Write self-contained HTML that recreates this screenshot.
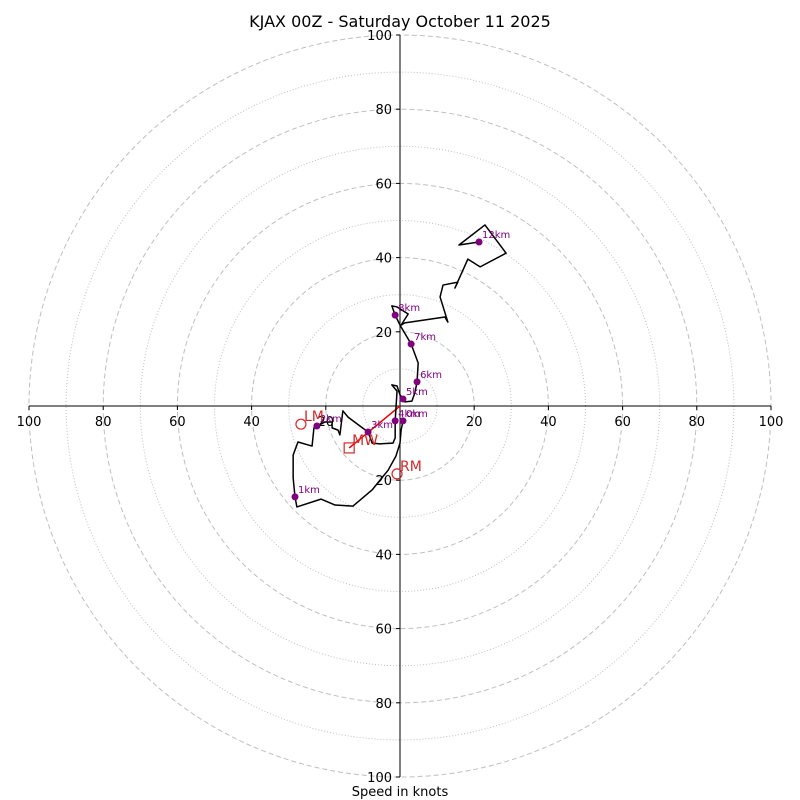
<!DOCTYPE html>
<html><head><meta charset="utf-8"><style>
html,body{margin:0;padding:0;background:#fff;}
svg{display:block;font-family:"DejaVu Sans","Liberation Sans",sans-serif;}
</style></head><body>
<svg id="c" width="800" height="800" viewBox="0 0 800 800">
<text x="400" y="27" text-anchor="middle" font-size="16">KJAX 00Z - Saturday October 11 2025</text>
<text x="400" y="796" text-anchor="middle" font-size="13">Speed in knots</text>
</svg>
<script>
const ringValues=[10,20,30,40,50,60,70,80,90,100];
const tickLabels=[20,40,60,80,100];
const traceU=[0.8,0.3,0,-1.1,-3.2,-7.5,-12.7,-17.5,-21.3,-27.8,-28.3,-28.8,-28.8,-27.5,-23.7,-23.2,-22.4,-20.2,-18.3,-18.3,-16.7,-16.2,-15.4,-14,-10.8,-8.6,-7.5,-5.4,-1.9,-1.3,-1.3,-0.8,-2.2,-0.8,0,0.8,1.3,3.2,4,4.6,4.9,3,0,-1.3,-2.2,-0.8,2.2,0.3,1.3,12.1,12.9,10.8,11.6,15.6,14.8,18.3,21.6,28.6,22.9,15.9,21.3];
const traceV=[-4,-6.5,-10,-13.5,-17.3,-22.6,-27,-26.7,-25.1,-27.2,-24.5,-19.4,-13.2,-9.7,-10.8,-5.9,-5.4,-4.3,-4.3,-5.9,-6.5,-7.8,-1.3,-3,-5.4,-7,-10,-10.2,-10,-8.6,-4,4,5.7,5.4,3,1.9,1.1,1.3,3.5,6.5,11.6,16.7,21.8,24.5,27,26.7,24.8,21.8,22.4,24,22.6,29.4,32.6,33.4,31.8,39.6,37.5,41.2,48.8,43.4,44.2];
const kmLabels=["0km","1km","2km","3km","4km","5km","6km","7km","8km","12km"];
const kmU=[0.8,-28.3,-22.4,-8.6,-1.3,0.8,4.6,3,-1.3,21.3];
const kmV=[-4,-24.5,-5.4,-7,-4,1.9,6.5,16.7,24.5,44.2];
const stormLabels=["LM","MW","RM"];
const stormU=[-26.7,-13.7,-0.8];
const stormV=[-4.9,-11.3,-18.3];

const svg=document.getElementById('c');
const NS='http://www.w3.org/2000/svg';
const cx=400,cy=406,S=3.71;
const X=u=>cx+u*S, Y=v=>cy-v*S;
function mk(t,a){const e=document.createElementNS(NS,t);for(const k in a)e.setAttribute(k,a[k]);svg.appendChild(e);return e;}

ringValues.forEach(r=>{
  const e=mk('circle',{cx:cx,cy:cy,r:r*S,fill:'none',stroke:'#bfbfbf','stroke-width':1,'stroke-dasharray':r%20===0?'5,3':'1,2'});
  
  
});
let ax=mk('line',{x1:X(-100),y1:cy,x2:X(100),y2:cy,stroke:'#000','stroke-width':1});


let ay=mk('line',{x1:cx,y1:Y(100),x2:cx,y2:Y(-100),stroke:'#000','stroke-width':1});


tickLabels.forEach(t=>{
  [-1,1].forEach(s=>{
    mk('line',{x1:X(s*t),y1:cy,x2:X(s*t),y2:cy+4,stroke:'#000'});
    let tx=mk('text',{x:X(s*t),y:cy+20,'text-anchor':'middle','font-size':13});
    tx.textContent=t;
    
    
    mk('line',{x1:cx-4,y1:Y(s*t),x2:cx,y2:Y(s*t),stroke:'#000'});
    let ty=mk('text',{x:cx-8,y:Y(s*t)+5,'text-anchor':'end','font-size':13});
    ty.textContent=t;
    
    
  });
});
let mw=mk('line',{x1:cx,y1:cy,x2:X(stormU[1]),y2:Y(stormV[1]),stroke:'#e00','stroke-width':1.5});


let pts=traceU.map((u,i)=>X(u)+','+Y(traceV[i])).join(' ');
let tr=mk('polyline',{points:pts,fill:'none',stroke:'#000','stroke-width':1.5,'stroke-linejoin':'round'});


kmLabels.forEach((l,i)=>{
  let c=mk('circle',{cx:X(kmU[i]),cy:Y(kmV[i]),r:3.5,fill:'#800080'});
  
  
  let t=mk('text',{x:X(kmU[i])+3,y:Y(kmV[i])-4,'font-size':10,fill:'#800080'});
  t.textContent=l;
  
  
});
stormLabels.forEach((l,i)=>{
  const x=X(stormU[i]),y=Y(stormV[i]);
  let m;
  if(l==='MW') m=mk('rect',{x:x-5,y:y-5,width:10,height:10,fill:'none',stroke:'#d62728','stroke-width':1.2});
  else m=mk('circle',{cx:x,cy:y,r:5,fill:'none',stroke:'#d62728','stroke-width':1.2});
  
  
  let t=mk('text',{x:x+3,y:y-3,'font-size':14,fill:'#d62728'});
  t.textContent=l;
  
  
});
</script>
</body></html>
